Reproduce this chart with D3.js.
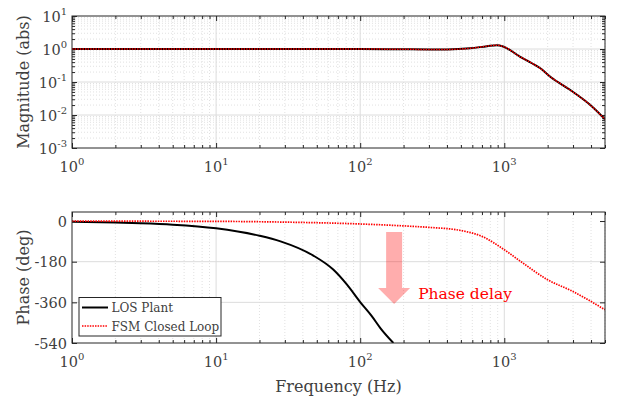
<!DOCTYPE html>
<html>
<head>
<meta charset="utf-8">
<script src="https://cdn.jsdelivr.net/npm/d3@7/dist/d3.min.js"></script>
<style>
  body { margin: 0; background: #fff; }
  text { font-family: "DejaVu Serif", serif; fill: #404040; }
</style>
</head>
<body>
<svg id="bode" width="619" height="399"></svg>
<script>
// magnitude (both curves overlap in the picture)
const magFreq  = [1, 10, 100, 200, 300, 400, 580, 760, 890, 990, 1290, 1556, 1778, 2085, 2872, 3955, 5000];
const magValue = [1.0, 1.0, 1.0, 0.98, 0.97, 0.97, 1.05, 1.22, 1.31, 1.17, 0.58, 0.37, 0.26, 0.145, 0.057, 0.020, 0.0074];

// phase, LOS plant
const losFreq  = [1, 2, 3, 5, 10, 20, 28, 47, 65, 81, 100, 120, 138, 170];
const losPhase = [-3, -7, -10, -16, -32, -65, -90, -152, -215, -282, -359, -420, -474, -540];

// phase, FSM closed loop
const fsmFreq  = [1, 10, 28, 100, 222, 300, 500, 700, 1000, 1300, 2000, 3000, 5000];
const fsmPhase = [-0.5, -1.5, -4.5, -13, -23, -28, -42, -68, -127, -179, -260, -312, -393];

const freqTicks  = [1, 10, 100, 1000];
const magTicks   = [1e-3, 1e-2, 1e-1, 1, 10];
const phaseTicks = [0, -180, -360, -540];
const legendLabels = ["LOS Plant", "FSM Closed Loop"];

// annotation: arrow at 172 Hz from -49 deg down to -367 deg
const arrowFreq = 172;
const arrowPhase = [-49, -297, -367];

const LEFT = 72, RIGHT = 605;
const TOP1 = 16, BOT1 = 148;
const TOP2 = 212, BOT2 = 343;
const AXIS = "#262626";
const DOTS = "1.5 1.1";

const svg = d3.select("#bode");

const x = d3.scaleLog().domain([1, 5000]).range([LEFT, RIGHT]);
const yMag = d3.scaleLog().domain([1e-3, 10]).range([BOT1, TOP1]);
const yPh = d3.scaleLinear().domain([-540, 40]).range([BOT2, TOP2]);

const freqMinor = [];
[1, 10, 100, 1000].forEach(d => { for (let k = 2; k <= 9; k++) if (k * d <= 5000) freqMinor.push(k * d); });
const magMinor = [];
[1e-3, 1e-2, 1e-1, 1].forEach(d => { for (let k = 2; k <= 9; k++) magMinor.push(k * d); });

function drawPanel(y, top, bottom, yMajor, yMinor, id) {
    const g = svg.append("g");

    g.append("defs").append("clipPath").attr("id", id)
        .append("rect").attr("x", LEFT).attr("y", top)
        .attr("width", RIGHT - LEFT).attr("height", bottom - top);

    // grid
    g.append("g").selectAll("line").data(freqMinor).join("line")
        .attr("x1", d => x(d)).attr("x2", d => x(d)).attr("y1", top).attr("y2", bottom)
        .attr("stroke", "#d9d9d9").attr("stroke-width", 0.8).attr("stroke-dasharray", "1 2");
    g.append("g").selectAll("line").data(yMinor).join("line")
        .attr("x1", LEFT).attr("x2", RIGHT).attr("y1", d => y(d)).attr("y2", d => y(d))
        .attr("stroke", "#d9d9d9").attr("stroke-width", 0.8).attr("stroke-dasharray", "1 2");
    g.append("g").selectAll("line").data(freqTicks.slice(1)).join("line")
        .attr("x1", d => x(d)).attr("x2", d => x(d)).attr("y1", top).attr("y2", bottom)
        .attr("stroke", "#dcdcdc").attr("stroke-width", 1);
    g.append("g").selectAll("line").data(yMajor.slice(1, -1)).join("line")
        .attr("x1", LEFT).attr("x2", RIGHT).attr("y1", d => y(d)).attr("y2", d => y(d))
        .attr("stroke", "#dcdcdc").attr("stroke-width", 1);

    // inward ticks on all four sides
    const tk = (axis, tr) => g.append("g").attr("transform", tr).call(axis)
        .call(s => s.select(".domain").remove())
        .call(s => s.selectAll(".tick line").attr("stroke", AXIS));
    tk(d3.axisBottom(x).tickValues(freqTicks).tickSize(-5).tickFormat(""), `translate(0,${bottom})`);
    tk(d3.axisBottom(x).tickValues(freqMinor).tickSize(-3).tickFormat(""), `translate(0,${bottom})`);
    tk(d3.axisTop(x).tickValues(freqTicks).tickSize(-5).tickFormat(""), `translate(0,${top})`);
    tk(d3.axisTop(x).tickValues(freqMinor).tickSize(-3).tickFormat(""), `translate(0,${top})`);
    tk(d3.axisLeft(y).tickValues(yMajor).tickSize(-5).tickFormat(""), `translate(${LEFT},0)`);
    tk(d3.axisRight(y).tickValues(yMajor).tickSize(-5).tickFormat(""), `translate(${RIGHT},0)`);
    if (yMinor.length) {
        tk(d3.axisLeft(y).tickValues(yMinor).tickSize(-3).tickFormat(""), `translate(${LEFT},0)`);
        tk(d3.axisRight(y).tickValues(yMinor).tickSize(-3).tickFormat(""), `translate(${RIGHT},0)`);
    }

    // x tick labels 10^n
    g.append("g").selectAll("text").data(freqTicks).join("text")
        .attr("x", d => x(d)).attr("y", bottom + 24)
        .attr("text-anchor", "middle").attr("font-size", 14.5)
        .each(function(d) {
            const t = d3.select(this);
            t.append("tspan").text("10");
            t.append("tspan").attr("font-size", 10).attr("dy", -7).text(Math.round(Math.log10(d)));
        });

    return g;
}

const g1 = drawPanel(yMag, TOP1, BOT1, magTicks, magMinor, "clip1");
const g2 = drawPanel(yPh, TOP2, BOT2, phaseTicks, [], "clip2");

// y tick labels
g1.append("g").selectAll("text").data(magTicks).join("text")
    .attr("x", 67).attr("y", d => yMag(d) + 6)
    .attr("text-anchor", "end").attr("font-size", 14.5)
    .each(function(d) {
        const t = d3.select(this);
        t.append("tspan").text("10");
        t.append("tspan").attr("font-size", 10).attr("dy", -7).text(Math.round(Math.log10(d)));
    });
g2.append("g").selectAll("text").data(phaseTicks).join("text")
    .attr("x", 67).attr("y", d => yPh(d) + 5.5)
    .attr("text-anchor", "end").attr("font-size", 14.5)
    .text(d => d);

// curves
const line = (y) => d3.line().x(d => x(d[0])).y(d => y(d[1])).curve(d3.curveMonotoneX);
const magPts = d3.zip(magFreq, magValue);
const losPts = d3.zip(losFreq, losPhase);
const fsmPts = d3.zip(fsmFreq, fsmPhase);

const c1 = g1.append("g").attr("clip-path", "url(#clip1)");
c1.append("path").datum(magPts).attr("d", line(yMag))
    .attr("fill", "none").attr("stroke", "#000").attr("stroke-width", 2);
c1.append("path").datum(magPts).attr("d", line(yMag))
    .attr("fill", "none").attr("stroke", "#ff0000").attr("stroke-width", 1.5)
    .attr("stroke-dasharray", DOTS);

// arrow annotation
const ax = x(arrowFreq);
const aTop = yPh(arrowPhase[0]), aBase = yPh(arrowPhase[1]), aTip = yPh(arrowPhase[2]);
g2.append("path")
    .attr("d", `M${ax - 8},${aTop}H${ax + 8}V${aBase}H${ax + 16}L${ax},${aTip}L${ax - 16},${aBase}H${ax - 8}Z`)
    .attr("fill", "#ff0000").attr("fill-opacity", 0.32);

const c2 = g2.append("g").attr("clip-path", "url(#clip2)");
c2.append("path").datum(losPts).attr("d", line(yPh))
    .attr("fill", "none").attr("stroke", "#000").attr("stroke-width", 2);
c2.append("path").datum(fsmPts).attr("d", line(yPh))
    .attr("fill", "none").attr("stroke", "#ff0000").attr("stroke-width", 1.7)
    .attr("stroke-dasharray", DOTS);

g2.append("text").attr("x", ax + 24).attr("y", yPh(-345))
    .attr("font-size", 15.5).style("fill", "#ff0000").text("Phase delay");

// frames
[[TOP1, BOT1], [TOP2, BOT2]].forEach(([t, b]) =>
    svg.append("rect").attr("x", LEFT).attr("y", t).attr("width", RIGHT - LEFT).attr("height", b - t)
        .attr("fill", "none").attr("stroke", AXIS).attr("stroke-width", 1));

// legend
const lg = svg.append("g");
lg.append("rect").attr("x", 79).attr("y", 297.5).attr("width", 142).attr("height", 38.5)
    .attr("fill", "#fff").attr("stroke", AXIS).attr("stroke-width", 1);
legendLabels.forEach((name, i) => {
    const yy = 307.5 + i * 18.5;
    lg.append("line").attr("x1", 82).attr("x2", 108).attr("y1", yy).attr("y2", yy)
        .attr("stroke", i ? "#ff0000" : "#000").attr("stroke-width", i ? 1.7 : 2)
        .attr("stroke-dasharray", i ? DOTS : null);
    lg.append("text").attr("x", 111.5).attr("y", yy + 4.5).attr("font-size", 12).text(name);
});

// axis titles
svg.append("text").attr("transform", `translate(29,${(TOP1 + BOT1) / 2}) rotate(-90)`)
    .attr("text-anchor", "middle").attr("font-size", 16).text("Magnitude (abs)");
svg.append("text").attr("transform", `translate(29,${(TOP2 + BOT2) / 2}) rotate(-90)`)
    .attr("text-anchor", "middle").attr("font-size", 16).text("Phase (deg)");
svg.append("text").attr("x", (LEFT + RIGHT) / 2).attr("y", 392)
    .attr("text-anchor", "middle").attr("font-size", 16).text("Frequency (Hz)");
</script>
</body>
</html>
